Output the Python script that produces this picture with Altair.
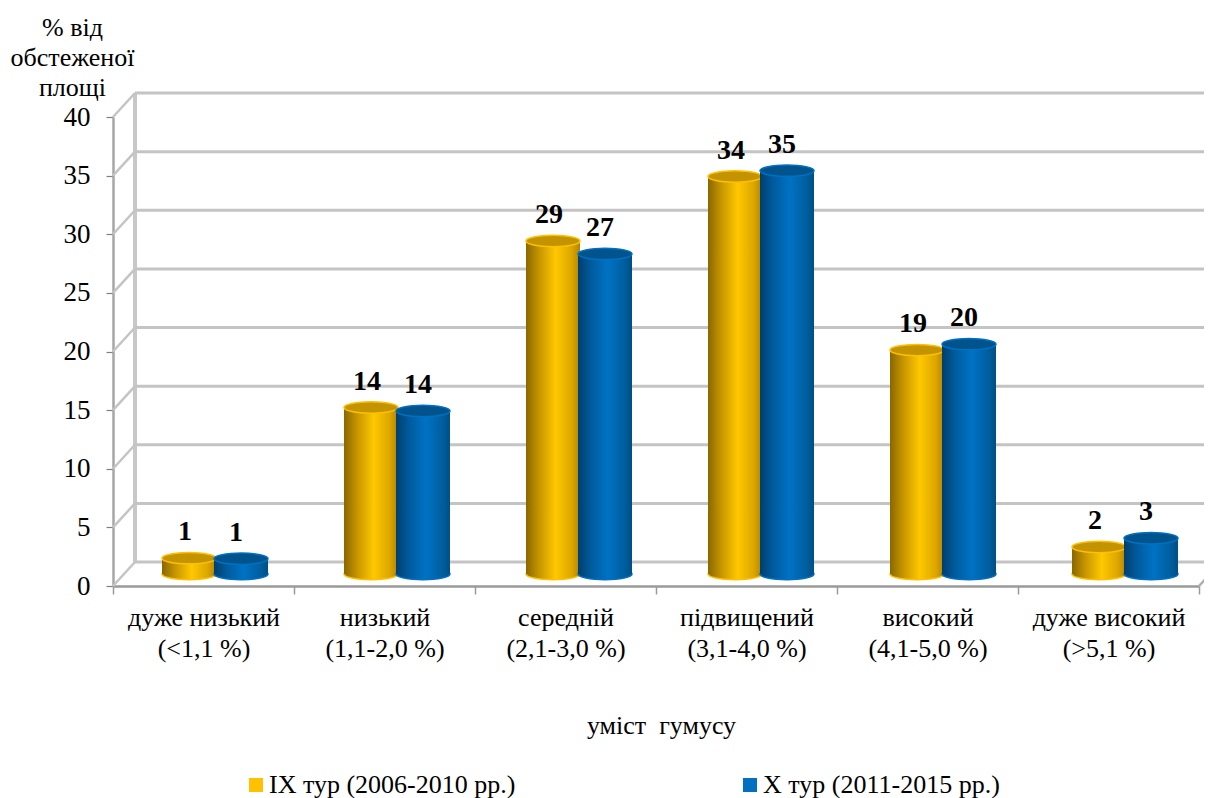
import altair as alt
import pandas as pd

categories = ["дуже низький|(<1,1 %)", "низький|(1,1-2,0 %)", "середній|(2,1-3,0 %)",
              "підвищений|(3,1-4,0 %)", "високий|(4,1-5,0 %)", "дуже високий|(>5,1 %)"]
series_names = ["ІХ тур (2006-2010 рр.)", "Х тур (2011-2015 рр.)"]
heights_ix = [1.35, 14.2, 28.4, 33.9, 19.1, 2.3]
heights_x = [1.3, 13.9, 27.3, 34.4, 19.6, 3.05]
labels_ix = ["1", "14", "29", "34", "19", "2"]
labels_x = ["1", "14", "27", "35", "20", "3"]
tick_values = [0, 5, 10, 15, 20, 25, 30, 35, 40]

FONT = "Liberation Serif"
W, H = 1086, 469
DX, DY = 22, 24
UNIT = H / 40
BASE = 12

x_axis_enc = alt.X("cat:N", sort=categories,
                   scale=alt.Scale(domain=categories, paddingInner=0, paddingOuter=0),
                   axis=alt.Axis(title="уміст\u00a0\u00a0гумусу", titleFont=FONT, titleFontSize=26,
                                 titleFontWeight="normal", titleColor="black", titleY=139,
                                 titleBaseline="middle", titleX=548,
                                 labelExpr="split(datum.label, '|')", labelFont=FONT, labelFontSize=26,
                                 labelColor="black", labelAngle=0, labelLineHeight=31, labelPadding=10,
                                 labelLimit=0, labelOverlap=False, tickBand="extent", tickSize=8,
                                 tickColor="#9a9a9a", tickWidth=1.5, domainColor="#9a9a9a", domainWidth=2.5))
x_bar_enc = alt.X("cat:N", sort=categories,
                  scale=alt.Scale(domain=categories, range=[11, 1103], paddingInner=0, paddingOuter=0),
                  axis=None)
y_scale = alt.Scale(domain=[0, 40], nice=False)
y_axis = alt.Axis(values=tick_values, title=["% від", "обстеженої", "площі"], titleFont=FONT,
                  titleFontSize=26, titleFontWeight="normal", titleColor="black", titleAngle=0,
                  titleAlign="center", titleBaseline="top", titleLineHeight=30, titleX=-41, titleY=-103,
                  labelFont=FONT, labelFontSize=27, labelColor="black", labelPadding=16, grid=False,
                  tickSize=7, tickColor="#808080", tickWidth=1.2, domainColor="#a6a6a6", domainWidth=2.5)


def yenc(field):
    return alt.Y(field, scale=y_scale, axis=y_axis)


ticks = pd.DataFrame({"v": tick_values, "v2": [v + DY / UNIT for v in tick_values]})
grid = alt.Chart(ticks).mark_rule(color="#c4c4c4", strokeWidth=3, yOffset=-DY).encode(
    y=yenc("v:Q"), x=alt.value(DX), x2=alt.value(W + 30))
diag = alt.Chart(ticks).mark_rule(color="#c4c4c4", strokeWidth=2.5).encode(
    y=yenc("v:Q"), y2="v2:Q", x=alt.value(0), x2=alt.value(DX))
back = alt.Chart(ticks).mark_rule(color="#c8c8c8", strokeWidth=3).encode(
    x=alt.value(DX), y=alt.value(-DY), y2=alt.value(H - DY))
right = alt.Chart(ticks[ticks.v == 0]).mark_rule(color="#b0b0b0", strokeWidth=2.5).encode(
    y=yenc("v:Q"), y2="v2:Q", x=alt.value(W), x2=alt.value(W + DX))

legend_df = pd.DataFrame({"cat": categories[:2], "val": [0, 0], "series": series_names})
legend_layer = alt.Chart(legend_df).mark_square(opacity=0).encode(
    x=x_axis_enc, y=yenc("val:Q"),
    color=alt.Color("series:N", sort=series_names,
                    scale=alt.Scale(domain=series_names, range=["#ffc000", "#0070c0"]),
                    legend=alt.Legend(title=None, orient="none", legendX=130, legendY=655,
                                      direction="horizontal", columns=2, columnPadding=221,
                                      symbolType="square", symbolSize=196, symbolOpacity=1,
                                      symbolStrokeWidth=0, labelFont=FONT, labelFontSize=26,
                                      labelColor="black", labelLimit=0, labelOffset=0)),
)


def grad(stops):
    return alt.LinearGradient(gradient="linear", x1=0, x2=1, y1=0, y2=0,
                              stops=[alt.GradientStop(offset=o, color=c) for o, c in stops])


ELLIPSE = "M-1,0A1,0.21,0,1,1,1,0A1,0.21,0,1,1,-1,0Z"
BW = 54
styles = [
    dict(off=-26, stops=[(0, "#8a6800"), (0.25, "#c89600"), (0.55, "#ffc800"), (0.85, "#dca600"), (1, "#b08500")],
         top="#c49300", rim="#ffc000", lab=-4),
    dict(off=26, stops=[(0, "#003f6e"), (0.25, "#005c9e"), (0.55, "#0072c4"), (0.85, "#005fa0"), (1, "#004f86")],
         top="#00538c", rim="#0070c0", lab=-5),
]
bar_layers = []
for heights, labels, st in zip([heights_ix, heights_x], [labels_ix, labels_x], styles):
    df = pd.DataFrame({"cat": categories, "val": heights, "label": labels, "zero": [0] * 6})
    base = alt.Chart(df)
    g = grad(st["stops"])
    common = dict(shape=ELLIPSE, size=BW * BW, filled=True, xOffset=st["off"], yOffset=-BASE, opacity=1)
    bar_layers.append(base.mark_point(fill=g, stroke=st["rim"], strokeWidth=1.5, **common).encode(
        x=x_bar_enc, y=yenc("zero:Q")))
    bar_layers.append(base.mark_bar(width=BW, fill=g, strokeWidth=0, xOffset=st["off"], yOffset=-BASE).encode(
        x=x_bar_enc, y=yenc("val:Q")))
    bar_layers.append(base.mark_point(fill=st["top"], stroke=st["rim"], strokeWidth=1.5, **common).encode(
        x=x_bar_enc, y=yenc("val:Q")))
    bar_layers.append(base.mark_text(font=FONT, fontSize=28, fontWeight="bold", color="black", baseline="bottom",
                                     xOffset=st["off"] + st["lab"], yOffset=-BASE - 12).encode(
        x=x_bar_enc, y=yenc("val:Q"), text="label:N"))

frame = alt.layer(back, grid, diag, right, legend_layer)
bars = alt.layer(*bar_layers)

chart = alt.layer(frame, bars).resolve_scale(x="independent").properties(
    width=W, height=H, autosize=alt.AutoSizeParams(type="none"),
    padding={"left": 105, "top": 109, "right": 5, "bottom": 212},
    background="white",
).configure_view(stroke=None)

chart.save("out.html", embed_options={"renderer": "svg", "actions": False})
